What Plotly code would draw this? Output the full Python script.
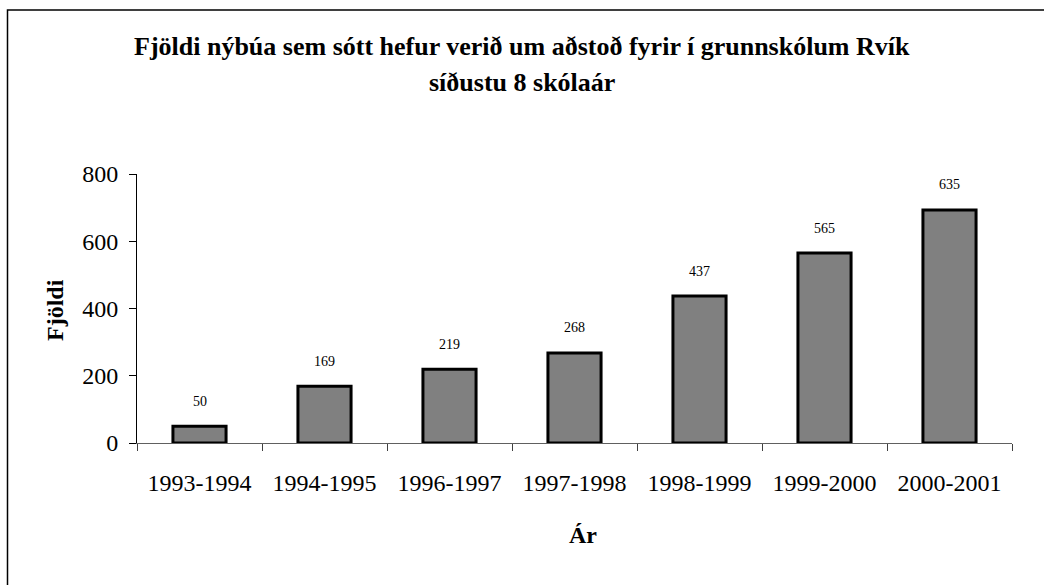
import plotly.graph_objects as go

categories = ["1993-1994", "1994-1995", "1996-1997", "1997-1998", "1998-1999", "1999-2000", "2000-2001"]
values = [50, 169, 219, 268, 437, 565, 693]
value_labels = ["50", "169", "219", "268", "437", "565", "635"]
y_ticks = [0, 200, 400, 600, 800]

title_line1 = "Fjöldi nýbúa sem sótt hefur verið um aðstoð fyrir í grunnskólum Rvík"
title_line2 = "síðustu 8 skólaár"
x_title = "Ár"
y_title = "Fjöldi"

FONT = "Liberation Serif"
W, H = 1044, 585
L, R, T, B = 137, 32, 174, 142
PW, PH = W - L - R, H - T - B

def px(x):
    return (x - L) / PW

def py(y):
    return (H - B - y) / PH

fig = go.Figure()
fig.add_trace(go.Bar(
    x=categories, y=values,
    marker=dict(color="#808080", line=dict(color="black", width=3)),
    hoverinfo="skip",
))

annotations = []
for c, v, lab in zip(categories, values, value_labels):
    annotations.append(dict(x=c, y=v, xref="x", yref="y", text=lab, showarrow=False,
                            yshift=25, font=dict(family=FONT, size=14, color="black")))

annotations += [
    dict(x=px(522), y=py(47), xref="paper", yref="paper", text="<b>%s</b>" % title_line1,
         showarrow=False, font=dict(family=FONT, size=26, color="black"), xanchor="center", yanchor="middle"),
    dict(x=px(522), y=py(82), xref="paper", yref="paper", text="<b>%s</b>" % title_line2,
         showarrow=False, font=dict(family=FONT, size=26, color="black"), xanchor="center", yanchor="middle"),
    dict(x=px(583), y=py(535), xref="paper", yref="paper", text="<b>%s</b>" % x_title,
         showarrow=False, font=dict(family=FONT, size=24, color="black"), xanchor="center", yanchor="middle"),
    dict(x=px(55), y=py(310), xref="paper", yref="paper", text="<b>%s</b>" % y_title, textangle=-90,
         showarrow=False, font=dict(family=FONT, size=24, color="black"), xanchor="center", yanchor="middle"),
]

fig.update_layout(
    width=W, height=H,
    margin=dict(l=L, r=R, t=T, b=B, pad=0),
    paper_bgcolor="white", plot_bgcolor="white",
    showlegend=False,
    bargap=0.575,
    annotations=annotations,
    shapes=[dict(type="rect", xref="paper", yref="paper",
                 x0=px(7.5), x1=px(1100), y0=py(640), y1=py(10),
                 line=dict(color="black", width=1.5), fillcolor="rgba(0,0,0,0)", layer="below")],
    font=dict(family=FONT, color="black"),
)
fig.update_xaxes(
    type="category", showline=True, linecolor="#606060", linewidth=1,
    ticks="outside", ticklen=7, tickcolor="#404040", tickson="boundaries",
    showgrid=False, tickfont=dict(family=FONT, size=24, color="black"),
    ticklabelstandoff=18, fixedrange=True,
)
fig.update_yaxes(
    range=[0, 800], tickvals=y_ticks, showline=True, linecolor="black", linewidth=1,
    ticks="outside", ticklen=7, tickcolor="black", showgrid=False, zeroline=False,
    tickfont=dict(family=FONT, size=24, color="black"), ticklabelstandoff=6, fixedrange=True,
)

fig.write_html("out.html", config={"displayModeBar": False},
               post_script="document.body.style.margin='0';document.body.style.overflow='hidden';")
